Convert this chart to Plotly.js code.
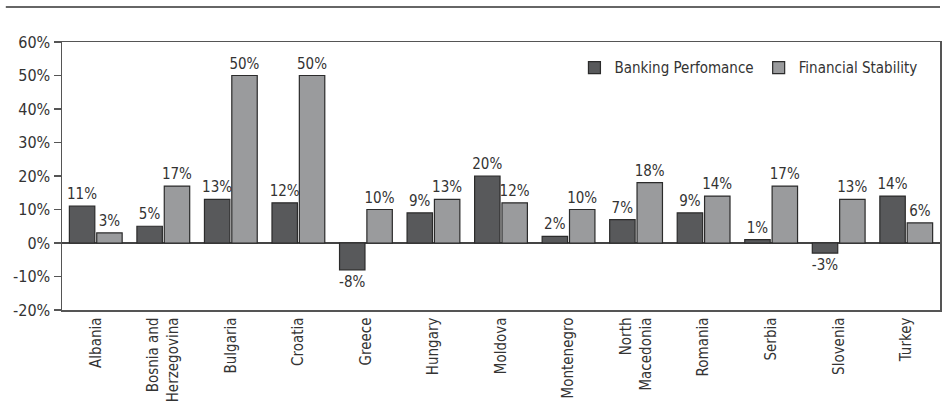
<!DOCTYPE html>
<html><head><meta charset="utf-8">
<script src="https://cdn.plot.ly/plotly-3.0.1.min.js"></script>
<style>html,body{margin:0;padding:0;background:#fff}#chart{width:948px;height:420px}</style>
</head><body><div id="chart"></div>
<script>
const countries = ["Albania","Bosnia and<br>Herzegovina","Bulgaria","Croatia","Greece","Hungary","Moldova","Montenegro","North<br>Macedonia","Romania","Serbia","Slovenia","Turkey"];
const banking = [11,5,13,12,-8,9,20,2,7,9,1,-3,14];
const stability = [3,17,50,50,10,13,12,10,18,14,17,13,6];
const yTicks = [-20,-10,0,10,20,30,40,50,60];

const FONT = "'Liberation Sans Narrow','DejaVu Sans Condensed',sans-serif";
const pct = a => a.map(v => v + "%");

const traces = [
  {type:"bar", name:"Banking Perfomance", x:countries, y:banking, text:pct(banking),
   textposition:"outside", cliponaxis:false, constraintext:"none",
   textfont:{family:FONT,size:15,color:"#333"},
   marker:{color:"#58595b", line:{color:"#2b2b2b", width:1.2}}},
  {type:"bar", name:"Financial Stability", x:countries, y:stability, text:pct(stability),
   textposition:"outside", cliponaxis:false, constraintext:"none",
   textfont:{family:FONT,size:15,color:"#333"},
   marker:{color:"#9a9b9d", line:{color:"#2b2b2b", width:1.2}}}
];

const layout = {
  width:948, height:420,
  margin:{l:62, r:8, t:42, b:110},
  paper_bgcolor:"#fff", plot_bgcolor:"#fff",
  font:{family:FONT, size:15, color:"#333"},
  barmode:"group", bargap:0.19, bargroupgap:0.07,
  showlegend:true,
  legend:{orientation:"h", x:0.98, xanchor:"right", y:0.965, yanchor:"top",
          font:{family:FONT,size:15,color:"#333"}, bgcolor:"rgba(0,0,0,0)", traceorder:"normal",
          itemwidth:30},
  xaxis:{tickangle:-90, showline:true, mirror:true, linecolor:"#555", linewidth:1.5,
         ticks:"", showgrid:false, tickfont:{family:FONT,size:15,color:"#333"}},
  yaxis:{range:[-20,60], tickvals:yTicks, ticktext:pct(yTicks),
         showline:true, mirror:true, linecolor:"#555", linewidth:1.5,
         ticks:"outside", ticklen:7, tickcolor:"#555", tickwidth:1.5,
         showgrid:false, zeroline:true, zerolinecolor:"#444", zerolinewidth:1.5,
         tickfont:{family:FONT,size:16,color:"#333"}},
  shapes:[{type:"line", xref:"paper", yref:"paper", x0:-0.064, x1:1.0, y0:1.131, y1:1.131,
           line:{color:"#666", width:2}}]
};

Plotly.newPlot("chart", traces, layout, {displayModeBar:false, staticPlot:true});
</script></body></html>
